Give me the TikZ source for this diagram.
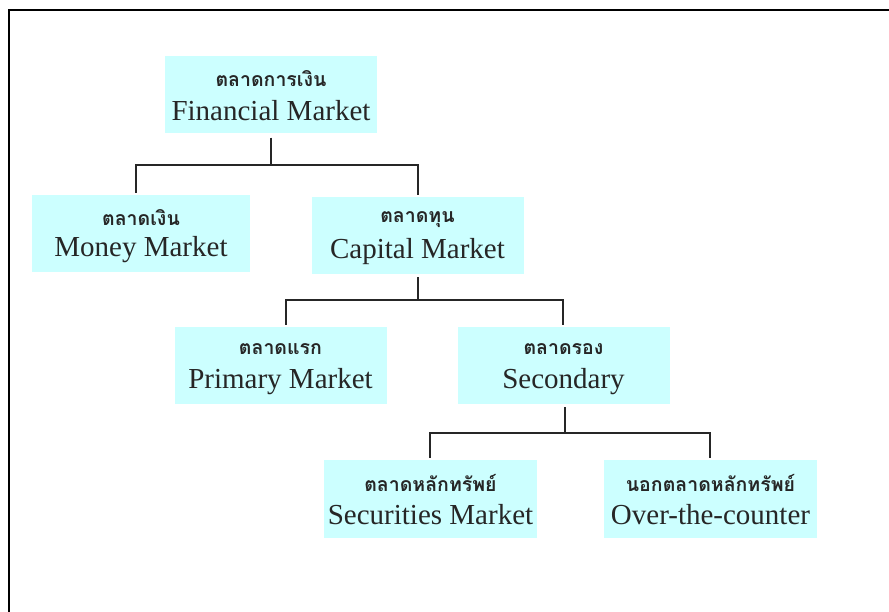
\documentclass[tikz,border=0pt]{standalone}
\usepackage{fontspec}
\setmainfont{Liberation Serif}
\newfontfamily\thaifont[Script=Thai]{Loma}
\begin{document}
\begin{tikzpicture}[x=1pt,y=-1pt,
  box/.style={fill=boxcyan,draw=none,inner sep=0pt,minimum width=212pt,minimum height=77pt},
  thtext/.style={font=\thaifont\fontsize{19.5}{22}\selectfont\bfseries,text=black!85,inner sep=0pt,yshift=16pt},
  entext/.style={font=\fontsize{29}{32}\selectfont,text=black!85,inner sep=0pt,yshift=-16pt},
  conn/.style={draw=black!85,line width=1.6pt},
  frame/.style={draw=black,line width=2pt}]
\definecolor{boxcyan}{HTML}{CCFFFF}
\useasboundingbox (0,0) rectangle (889,612);
\fill[white] (0,0) rectangle (889,612);
\draw[frame] (9,612) -- (9,10) -- (889,10);

\node[box] (fin) at (271,95) {};
\node[box,minimum width=218pt] (money) at (141,233.5) {};
\node[box] (cap) at (417.5,235.5) {};
\node[box] (prim) at (280.5,365.5) {};
\node[box] (sec) at (563.5,365.5) {};
\node[box,minimum width=213pt,minimum height=78pt] (secu) at (430.5,499) {};
\node[box,minimum width=213pt,minimum height=78pt] (otc) at (710.5,499) {};

\node[thtext] (finth) at (fin.center) {ตลาดการเงิน};
\node[entext] (finen) at (fin.center) {Financial Market};
\node[thtext] (moneyth) at (money.center) {ตลาดเงิน};
\node[entext] (moneyen) at (money.center) {Money Market};
\node[thtext] (capth) at (cap.center) {ตลาดทุน};
\node[entext] (capen) at (cap.center) {Capital Market};
\node[thtext] (primth) at (prim.center) {ตลาดแรก};
\node[entext] (primen) at (prim.center) {Primary Market};
\node[thtext] (secth) at (sec.center) {ตลาดรอง};
\node[entext] (secen) at (sec.center) {Secondary};
\node[thtext] (secuth) at (secu.center) {ตลาดหลักทรัพย์};
\node[entext] (secuen) at (secu.center) {Securities Market};
\node[thtext] (otcth) at (otc.center) {นอกตลาดหลักทรัพย์};
\node[entext] (otcen) at (otc.center) {Over-the-counter};

\coordinate (j1) at ([yshift=-31.5pt]fin.south);
\coordinate (j2) at ([xshift=0.5pt,yshift=-26pt]cap.south);
\coordinate (j3) at ([xshift=1.5pt,yshift=-29pt]sec.south);
\draw[conn] ([yshift=-4pt]fin.south) -- (j1);
\draw[conn] (j1) -| ([xshift=-5pt,yshift=2pt]money.north);
\draw[conn] (j1) -| ([xshift=0.5pt,yshift=2pt]cap.north);
\draw[conn] ([xshift=0.5pt,yshift=-3pt]cap.south) -- (j2);
\draw[conn] (j2) -| ([xshift=5.5pt,yshift=2pt]prim.north);
\draw[conn] (j2) -| ([xshift=-0.5pt,yshift=2pt]sec.north);
\draw[conn] ([xshift=1.5pt,yshift=-3pt]sec.south) -- (j3);
\draw[conn] (j3) -| ([xshift=-0.5pt,yshift=2pt]secu.north);
\draw[conn] (j3) -| ([xshift=-0.5pt,yshift=2pt]otc.north);
\end{tikzpicture}
\end{document}
